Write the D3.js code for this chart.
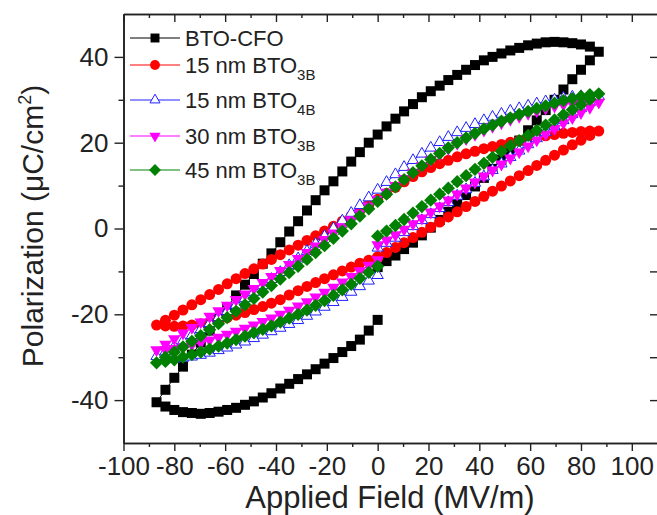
<!DOCTYPE html>
<html>
<head>
<meta charset="utf-8">
<script src="https://cdn.jsdelivr.net/npm/d3@7"></script>
<style>
  html, body { margin: 0; padding: 0; background: #fff; }
  svg { display: block; font-family: "Liberation Sans", Arial, sans-serif; }
</style>
</head>
<body>
<svg id="chart" width="657" height="515"></svg>
<script>
// Applied field sweep (MV/m): 0 -> +Emax -> -Emax -> 0
const fieldMVm = [
  0, 3.5, 7.0, 10.4, 13.9, 17.4, 20.9, 24.4, 27.8, 31.3, 34.8, 38.3, 41.8, 45.2, 48.7, 52.2, 55.7, 59.2, 62.6, 66.1, 69.6, 73.1, 76.6, 80.0, 83.5, 87.0,
  83.5, 80.0, 76.6, 73.1, 69.6, 66.1, 62.6, 59.2, 55.7, 52.2, 48.7, 45.2, 41.8, 38.3, 34.8, 31.3, 27.8, 24.4, 20.9, 17.4, 13.9, 10.4, 7.0, 3.5, 0,
  -3.5, -7.0, -10.4, -13.9, -17.4, -20.9, -24.4, -27.8, -31.3, -34.8, -38.3, -41.8, -45.2, -48.7, -52.2, -55.7, -59.2, -62.6, -66.1, -69.6, -73.1, -76.6, -80.0, -83.5, -87.0,
  -83.5, -80.0, -76.6, -73.1, -69.6, -66.1, -62.6, -59.2, -55.7, -52.2, -48.7, -45.2, -41.8, -38.3, -34.8, -31.3, -27.8, -24.4, -20.9, -17.4, -13.9, -10.4, -7.0, -3.5, 0
];

// Polarization (uC/cm^2) for each sample, same ordering as fieldMVm
const pBtoCfo = [
  -9.0, -7.6, -6.3, -4.8, -3.3, -1.6, 0.2, 2.0, 3.9, 5.8, 7.8, 9.8, 11.8, 13.9, 16.0, 18.2, 20.5, 22.9, 25.2, 27.6, 30.0, 32.4, 34.8, 37.0, 39.2, 41.2,
  42.4, 42.9, 43.2, 43.4, 43.5, 43.4, 43.1, 42.7, 42.1, 41.5, 40.8, 40.0, 39.2, 38.1, 37.0, 35.8, 34.6, 33.3, 32.0, 30.6, 29.0, 27.3, 25.6, 23.8, 21.9,
  20.0, 17.8, 15.6, 13.3, 11.0, 8.9, 6.6, 4.2, 1.7, -0.7, -3.2, -5.8, -8.2, -10.6, -13.1, -15.6, -18.3, -21.0, -23.8, -26.6, -29.4, -32.2, -34.8, -37.6, -40.5,
  -41.5, -42.3, -42.8, -43.0, -43.2, -43.0, -42.7, -42.3, -41.8, -41.1, -40.3, -39.4, -38.4, -37.3, -36.2, -35.1, -34.0, -32.8, -31.5, -30.2, -28.8, -27.4, -25.9, -23.8, -21.3
];
const p15nm3B = [
  -6.6, -5.6, -4.4, -3.3, -2.1, -0.9, 0.3, 1.5, 2.7, 3.9, 5.1, 6.3, 7.5, 8.7, 9.9, 11.1, 12.3, 13.5, 14.7, 15.9, 17.1, 18.3, 19.5, 20.6, 21.7, 22.7,
  22.7, 22.6, 22.4, 22.2, 21.9, 21.6, 21.3, 20.9, 20.5, 20.1, 19.6, 19.1, 18.6, 18.0, 17.4, 16.7, 15.9, 15.1, 14.2, 13.2, 12.1, 10.9, 9.6, 8.2, 6.8,
  5.4, 4.1, 2.9, 1.7, 0.5, -0.6, -1.7, -2.8, -3.9, -5.0, -6.1, -7.2, -8.3, -9.4, -10.5, -11.7, -12.9, -14.2, -15.4, -16.6, -17.8, -19.0, -20.2, -21.4, -22.5,
  -22.7, -22.8, -22.7, -22.5, -22.2, -21.8, -21.3, -20.8, -20.2, -19.6, -18.9, -18.2, -17.4, -16.6, -15.5, -14.5, -13.5, -12.6, -11.7, -10.8, -9.9, -9.0, -8.1, -7.4, -6.8
];
const p15nm4B = [
  -4.5, -3.4, -2.2, -0.9, 0.5, 1.9, 3.3, 4.7, 6.1, 7.6, 9.1, 10.6, 12.1, 13.6, 15.1, 16.6, 18.1, 19.6, 21.0, 22.4, 23.8, 25.2, 26.6, 28.0, 29.4, 30.8,
  30.9, 30.8, 30.7, 30.4, 30.0, 29.6, 29.1, 28.6, 28.0, 27.4, 26.7, 26.0, 25.2, 24.3, 23.4, 22.4, 21.3, 20.1, 18.8, 17.4, 15.9, 14.3, 12.6, 10.8, 9.0,
  7.2, 5.4, 3.6, 1.8, 0.0, -1.8, -3.6, -5.3, -7.0, -8.6, -10.2, -11.8, -13.3, -14.8, -16.3, -17.8, -19.3, -20.7, -22.1, -23.5, -24.9, -26.2, -27.5, -28.7, -29.8,
  -30.4, -30.4, -30.2, -29.9, -29.5, -29.0, -28.4, -27.8, -27.1, -26.4, -25.6, -24.8, -24.0, -23.2, -22.3, -21.4, -20.4, -19.4, -18.3, -17.2, -16.0, -14.8, -13.5, -12.2, -10.9
];
const p30nm3B = [
  -3.8, -2.7, -1.5, -0.2, 1.1, 2.4, 3.8, 5.2, 6.6, 8.0, 9.4, 10.8, 12.2, 13.6, 15.0, 16.4, 17.8, 19.2, 20.6, 22.0, 23.3, 24.6, 25.8, 27.0, 28.2, 29.4,
  29.5, 29.4, 29.2, 28.9, 28.5, 28.0, 27.4, 26.8, 26.1, 25.4, 24.6, 23.8, 22.9, 21.9, 20.9, 19.8, 18.6, 17.3, 16.0, 14.6, 13.1, 11.6, 10.0, 8.4, 6.8,
  5.2, 3.6, 2.0, 0.4, -1.1, -2.6, -4.1, -5.6, -7.0, -8.4, -9.8, -11.2, -12.6, -14.0, -15.3, -16.6, -17.9, -19.2, -20.5, -21.8, -23.1, -24.4, -25.7, -27.0, -28.3,
  -28.3, -28.0, -27.6, -27.1, -26.6, -26.0, -25.4, -24.7, -24.0, -23.3, -22.5, -21.7, -20.9, -20.0, -19.1, -18.1, -17.1, -16.0, -14.9, -13.7, -12.5, -11.2, -9.9, -8.6, -7.3
];
const p45nm3B = [
  -1.8, -0.6, 0.7, 2.1, 3.6, 5.1, 6.6, 8.0, 9.4, 10.9, 12.3, 13.8, 15.2, 16.6, 18.0, 19.3, 20.5, 21.7, 22.9, 24.1, 25.3, 26.5, 27.7, 28.9, 30.1, 31.4,
  31.2, 30.8, 30.3, 29.8, 29.2, 28.6, 28.0, 27.3, 26.6, 25.8, 25.0, 24.1, 23.2, 22.2, 21.1, 20.0, 18.8, 17.5, 16.1, 14.6, 13.0, 11.4, 9.7, 8.0, 6.3,
  4.6, 2.9, 1.1, -0.6, -2.3, -4.0, -5.6, -7.2, -8.8, -10.3, -11.8, -13.3, -14.8, -16.3, -17.8, -19.3, -20.8, -22.2, -23.6, -25.0, -26.3, -27.6, -28.8, -30.0, -31.3,
  -31.0, -30.6, -30.0, -29.4, -28.8, -28.1, -27.4, -26.7, -25.9, -25.1, -24.3, -23.5, -22.7, -21.8, -20.9, -20.0, -19.0, -17.9, -16.8, -15.6, -14.3, -13.0, -11.6, -10.2, -8.8
];

// Legend labels: main text and subscript
const seriesLabels = ["BTO-CFO", "15 nm BTO", "15 nm BTO", "30 nm BTO", "45 nm BTO"];
const seriesSubs = ["", "3B", "4B", "3B", "3B"];

// Axis ticks
const xTicks = [-100, -80, -60, -40, -20, 0, 20, 40, 60, 80, 100];
const xMinorTicks = [-90, -70, -50, -30, -10, 10, 30, 50, 70, 90];
const yTicks = [-40, -20, 0, 20, 40];
const yMinorTicks = [-30, -10, 10, 30];

// ---- drawing ----
const svg = d3.select("#chart");

const x = d3.scaleLinear().domain([-100, 110.7]).range([123.5, 659]);
const y = d3.scaleLinear().domain([-50, 50]).range([443, 14]);

const axisColor = "#222";
const plainNumber = d => String(d);   // hyphen-minus, as printed on the axes

const series = [
  { p: pBtoCfo, color: "#000000", shape: "square" },
  { p: p15nm3B, color: "#ff0000", shape: "circle" },
  { p: p15nm4B, color: "#2020ff", shape: "triUpOpen" },
  { p: p30nm3B, color: "#ff00ff", shape: "triDown" },
  { p: p45nm3B, color: "#008000", shape: "diamond" }
];

function symbolPath(shape, k) {
  switch (shape) {
    case "square": return d3.symbol(d3.symbolSquare, 100 * k)();
    case "circle": return d3.symbol(d3.symbolCircle, 95 * k)();
    case "triUpOpen": return d3.symbol(d3.symbolTriangle, 55 * k)();
    case "triDown": return d3.symbol(d3.symbolTriangle, 68 * k)();
    case "diamond": return d3.symbol(d3.symbolSquare, 88 * k)();
  }
}
function symbolRotate(shape) {
  if (shape === "triDown") return 180;
  if (shape === "diamond") return 45;
  return 0;
}
function drawMarker(sel, s, k) {
  sel.attr("d", symbolPath(s.shape, k))
    .attr("fill", s.shape === "triUpOpen" ? "#fff" : s.color)
    .attr("stroke", s.shape === "triUpOpen" ? s.color : "none")
    .attr("stroke-width", s.shape === "triUpOpen" ? 1 : 0);
}

// Plot data
const plot = svg.append("g");
const line = d3.line().x(d => x(d[0])).y(d => y(d[1]));
series.forEach(s => {
  const pts = fieldMVm.map((e, i) => [e, s.p[i]]);
  const g = plot.append("g");
  g.append("path").datum(pts)
    .attr("d", line)
    .attr("fill", "none")
    .attr("stroke", s.color)
    .attr("stroke-width", 1);
  g.selectAll("path.m").data(pts).enter().append("path")
    .attr("class", "m")
    .attr("transform", d => `translate(${x(d[0])},${y(d[1])}) rotate(${symbolRotate(s.shape)})`)
    .call(sel => drawMarker(sel, s, 1));
});

// Axes
function styleAxis(g) {
  g.selectAll(".domain").attr("stroke", axisColor).attr("stroke-width", 1.6);
  g.selectAll(".tick line").attr("stroke", axisColor).attr("stroke-width", 1.4);
  g.selectAll(".tick text").attr("fill", "#222").style("font-size", "26px")
    .style("font-family", '"Liberation Sans", Arial, sans-serif');
}

// bottom
svg.append("g").attr("transform", `translate(0,${y(-50)})`)
  .call(d3.axisBottom(x).tickValues(xTicks).tickSize(8).tickSizeOuter(0).tickPadding(6).tickFormat(plainNumber))
  .call(styleAxis);
svg.append("g").attr("transform", `translate(0,${y(-50)})`)
  .call(d3.axisBottom(x).tickValues(xMinorTicks).tickSize(4).tickSizeOuter(0).tickFormat(""))
  .call(styleAxis);
// top (ticks pointing into the plot)
svg.append("g").attr("transform", `translate(0,${y(50)})`)
  .call(d3.axisBottom(x).tickValues(xTicks).tickSize(8).tickSizeOuter(0).tickFormat(""))
  .call(styleAxis);
svg.append("g").attr("transform", `translate(0,${y(50)})`)
  .call(d3.axisBottom(x).tickValues(xMinorTicks).tickSize(4).tickSizeOuter(0).tickFormat(""))
  .call(styleAxis);
// left
svg.append("g").attr("transform", `translate(${x(-100)},0)`)
  .call(d3.axisLeft(y).tickValues(yTicks).tickSize(9).tickSizeOuter(0).tickPadding(6).tickFormat(plainNumber))
  .call(styleAxis);
svg.append("g").attr("transform", `translate(${x(-100)},0)`)
  .call(d3.axisLeft(y).tickValues(yMinorTicks).tickSize(5).tickSizeOuter(0).tickFormat(""))
  .call(styleAxis);
// right (ticks pointing into the plot)
svg.append("g").attr("transform", `translate(${x(110.7)},0)`)
  .call(d3.axisLeft(y).tickValues(yTicks).tickSize(9).tickSizeOuter(0).tickFormat(""))
  .call(styleAxis);
svg.append("g").attr("transform", `translate(${x(110.7)},0)`)
  .call(d3.axisLeft(y).tickValues(yMinorTicks).tickSize(9).tickSizeOuter(0).tickFormat(""))
  .call(styleAxis);

// Axis titles
svg.append("text")
  .attr("x", 390).attr("y", 508)
  .attr("text-anchor", "middle")
  .attr("fill", "#222")
  .style("font-size", "31px")
  .text("Applied Field (MV/m)");

const yt = svg.append("text")
  .attr("transform", "translate(43,226) rotate(-90)")
  .attr("text-anchor", "middle")
  .attr("fill", "#222")
  .style("font-size", "30px");
yt.append("tspan").text("Polarization (\u03BCC/cm");
yt.append("tspan").attr("dy", -12).style("font-size", "18px").text("2");
yt.append("tspan").attr("dy", 12).text(")");

// Legend
const legendRows = [38, 65, 100, 136, 170];
const legend = svg.append("g");
series.forEach((s, i) => {
  const row = legend.append("g").attr("transform", `translate(0,${legendRows[i]})`);
  row.append("line").attr("x1", 130).attr("x2", 180).attr("y1", 0).attr("y2", 0)
    .attr("stroke", s.color).attr("stroke-width", 1);
  row.append("path")
    .attr("transform", `translate(155,0) rotate(${symbolRotate(s.shape)})`)
    .call(sel => drawMarker(sel, s, 0.8));
  const t = row.append("text").attr("x", 185).attr("y", 8)
    .attr("fill", "#222").style("font-size", "22px");
  t.append("tspan").text(seriesLabels[i]);
  if (seriesSubs[i]) {
    t.append("tspan").attr("dy", 7).style("font-size", "15px").text(seriesSubs[i]);
  }
});
</script>
</body>
</html>
